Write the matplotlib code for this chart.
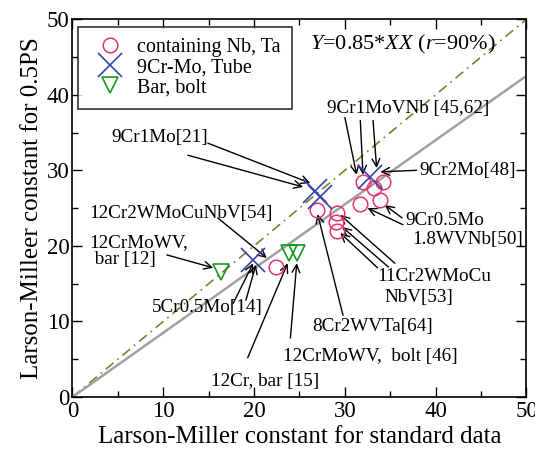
import matplotlib
matplotlib.use("Agg")
import matplotlib.pyplot as plt
from matplotlib.ticker import MultipleLocator

plt.rcParams['font.family'] = ['Liberation Serif', 'DejaVu Serif']
plt.rcParams['mathtext.fontset'] = 'custom'
plt.rcParams['mathtext.rm'] = 'Liberation Serif'
plt.rcParams['mathtext.it'] = 'Liberation Serif:italic'

# data
nbta_x = [26.9, 29.1, 29.0, 29.1, 31.7, 32.0, 33.2, 34.2, 33.9, 22.4]
nbta_y = [24.8, 24.4, 23.2, 22.0, 25.5, 28.5, 27.6, 28.4, 26.1, 17.2]
tube_x = [26.7, 27.3, 32.8, 19.9]
tube_y = [27.2, 26.5, 29.1, 18.1]
bar_x = [16.4, 23.9, 24.7]
bar_y = [16.6, 19.0, 19.0]
fit_slope = 0.85

fig = plt.figure(figsize=(5.35, 4.57), dpi=100)
ax = fig.add_axes([0.1355, 0.1313, 0.8485, 0.8267])

xl = [0, 50]
ax.plot(xl, [0, 50], color='#7f7f2a', lw=1.2, ls=(0, (6, 3, 1, 3)))
ax.plot(xl, [fit_slope * v for v in xl], color='#a0a0a0', lw=1.8)

ax.plot(nbta_x, nbta_y, 'o', ms=10.5, mfc='none', mec='#e8336d', mew=1.1,
        label='containing Nb, Ta', zorder=5)
ax.plot(tube_x, tube_y, 'x', ms=17, mec='#3344aa', mew=1.2,
        label='9Cr-Mo, Tube', zorder=5)
ax.plot(bar_x, bar_y, 'v', ms=11, mfc='none', mec='#119922', mew=1.2,
        label='Bar, bolt', zorder=5)

ax.set_xlim(0, 50)
ax.set_ylim(0, 50)
ax.xaxis.set_major_locator(MultipleLocator(10))
ax.xaxis.set_minor_locator(MultipleLocator(5))
ax.yaxis.set_major_locator(MultipleLocator(10))
ax.yaxis.set_minor_locator(MultipleLocator(5))
ax.tick_params(which='both', direction='in', top=True, right=True, labelsize=16.5, width=1)
ax.tick_params(which='major', length=7)
ax.tick_params(which='minor', length=4)
ax.tick_params(axis='x', pad=3)
ax.tick_params(axis='y', pad=2)
for s in ax.spines.values():
    s.set_linewidth(1.2)

ax.set_xlabel('Larson-Miller constant for standard data', fontsize=18, labelpad=3)
ax.set_ylabel('Larson-Milleer constant for 0.5PS', fontsize=18, labelpad=3)

leg = ax.legend(loc='upper left', bbox_to_anchor=(0.012, 0.979), fontsize=14.5,
                frameon=True, fancybox=False, edgecolor='black', borderpad=0.55,
                borderaxespad=0, handletextpad=0.3, labelspacing=0.05,
                handlelength=2.1)
leg.get_frame().set_linewidth(1.2)

ax.text(26.2, 46.6, r'$\mathit{Y}$=0.85*$\mathit{XX}$ ($\mathit{r}$=90%)', fontsize=16,
        ha='left', va='center')

FS = 13.8
ap = dict(arrowstyle='->', color='black', lw=1.0, shrinkA=0, shrinkB=0, mutation_scale=14)

labels = [
    ('9Cr1MoVNb [45,62]', 37.0, 38.2),
    ('9Cr2Mo[48]', 43.5, 30.0),
    ('9Cr1Mo[21]', 9.6, 34.3),
    ('12Cr2WMoCuNbV[54]', 11.9, 24.3),
    ('5Cr0.5Mo[14]', 14.8, 11.9),
    ('12Cr, bar [15]', 21.2, 2.0),
    ('12CrMoWV,  bolt [46]', 32.8, 5.3),
    ('8Cr2WVTa[64]', 33.1, 9.3),
    ('11Cr2WMoCu', 39.8, 15.9),
    ('NbV[53]', 38.2, 13.2),
    ('9Cr0.5Mo', 41.0, 23.4),
    ('1.8WVNb[50]', 43.5, 20.8),
]
for t, x, y in labels:
    ax.text(x, y, t, fontsize=FS, ha='center', va='center')
ax.text(1.9, 19.3, '12CrMoWV,\n bar [12]', fontsize=FS, ha='left', va='center',
        linespacing=1.05)

arrows = [
    ((30.0, 37.0), (31.3, 29.4)),
    ((31.7, 36.6), (32.0, 29.4)),
    ((33.1, 36.6), (33.5, 30.3)),
    ((37.9, 30.0), (33.9, 29.8)),
    ((14.9, 33.6), (26.2, 28.3)),
    ((12.7, 32.0), (25.4, 27.8)),
    ((16.0, 23.7), (21.4, 18.4)),
    ((10.4, 18.8), (15.5, 17.1)),
    ((17.7, 12.4), (19.9, 17.7)),
    ((19.1, 12.8), (20.2, 17.5)),
    ((19.3, 5.2), (23.7, 17.7)),
    ((24.0, 7.8), (24.7, 17.7)),
    ((29.8, 10.8), (27.0, 24.2)),
    ((35.5, 17.7), (29.5, 24.1)),
    ((34.8, 17.2), (29.7, 22.5)),
    ((33.6, 17.1), (29.5, 21.7)),
    ((36.4, 22.8), (32.5, 25.0)),
    ((36.3, 23.7), (34.4, 25.4)),
]
for (x0, y0), (x1, y1) in arrows:
    ax.annotate('', xy=(x1, y1), xytext=(x0, y0), arrowprops=ap)

fig.savefig('out.png', dpi=100)
